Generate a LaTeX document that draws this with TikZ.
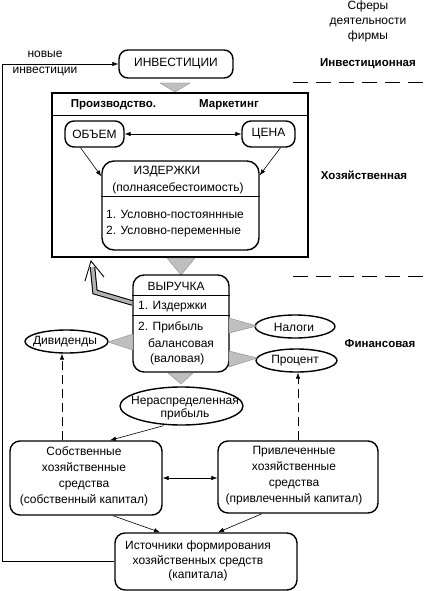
\documentclass[tikz,border=0pt]{standalone}
\usepackage{fontspec}
\setmainfont{Liberation Sans}
\usetikzlibrary{arrows.meta,shapes.geometric,calc}
\begin{document}
\begin{tikzpicture}[x=1pt,y=-1pt,
 txt/.style={font=\fontsize{12}{15}\selectfont, inner sep=0, align=center},
 hdr/.style={font=\fontsize{11.5}{14}\selectfont\bfseries, inner sep=0},
 rbox/.style={draw, line width=1.4pt, rounded corners=9pt, inner sep=0},
 ell/.style={draw, ellipse, line width=1.4pt, inner sep=0},
 tri/.style={fill=black!25, draw=black!45, line width=0.4pt},
 arr/.style={-{Latex[length=6pt,width=4.5pt]}, line width=0.6pt},
 darr/.style={{Latex[length=6pt,width=4.5pt]}-{Latex[length=6pt,width=4.5pt]}, line width=0.6pt},
 dasharr/.style={arr, dash pattern=on 9pt off 5pt},
 sep/.style={dash pattern=on 15pt off 8pt, line width=0.7pt}
]
\useasboundingbox (0,0) rectangle (426,591);

% right column
\node[txt] (sfery) at (368,21) {Сферы\\деятельности\\фирмы};
\node[hdr] (sInv) at (368,64) {Инвестиционная};
\node[hdr] (sHoz) at (364,175) {Хозяйственная};
\node[hdr] (sFin) at (380,344) {Финансовая};
\coordinate (sepA) at (293,82);
\coordinate (sepB) at (293,276);
\draw[sep] (sepA) -- ++(133,0);
\draw[sep] (sepB) -- ++(133,0);

% investments
\node[rbox, minimum width=114, minimum height=28] (inv) at (176,64) {};
\node[txt] (invT) at (176,64) {ИНВЕСТИЦИИ};
\node[txt, font=\fontsize{12}{16}\selectfont] (newinv) at (45,63) {новые\\инвестиции};

% production box
\node[draw, line width=1.4pt, minimum width=256, minimum height=164, inner sep=0] (prod) at (180,175) {};
\draw[line width=1.2pt] ([yshift=-23]prod.north west) -- ([yshift=-23]prod.north east);
\node[hdr] (prodT) at (113.5,105) {Производство.};
\node[hdr] (markT) at (229,105) {Маркетинг};

\node[rbox, minimum width=59, minimum height=26] (obj) at (94.5,134) {};
\node[txt] (objT) at (94.5,134) {ОБЪЕМ};
\node[rbox, minimum width=53, minimum height=26] (cena) at (268.5,134) {};
\node[txt] (cenaT) at (268.5,134) {ЦЕНА};
\draw[darr] (obj) -- (cena);

\node[rbox, rounded corners=12pt, minimum width=157, minimum height=89] (izd) at (180.5,205.5) {};
\draw[line width=1.2pt] ([yshift=-36]izd.north west) -- ([yshift=-36]izd.north east);
\node[txt] (izdT) at (167,172) {ИЗДЕРЖКИ};
\node[txt] (izdT2) at (178,188) {(полнаясебестоимость)};
\node[txt, anchor=west] (izd1) at (106,214) {1. Условно-постояннные};
\node[txt, anchor=west] (izd2) at (106,232) {2. Условно-переменные};
\draw[arr] ([xshift=-14]obj.south) -- ([yshift=-16]izd.north west);
\draw[arr] ([xshift=12]cena.south) -- ([yshift=-15]izd.north east);

% triangles
\draw[tri] (160,83) -- (190,83) -- (175,92) -- cycle;
\draw[tri] (167,258) -- (195,258) -- (181,275) -- cycle;

% revenue
\node[rbox, rounded corners=11pt, minimum width=96, minimum height=97] (vyr) at (181,323.5) {};
\draw[line width=1.2pt] ([yshift=-21]vyr.north west) -- ([yshift=-21]vyr.north east);
\draw[line width=1.2pt] ([yshift=-41]vyr.north west) -- ([yshift=-41]vyr.north east);
\node[txt] (vyrT) at (176,286) {ВЫРУЧКА};
\node[txt, anchor=west] (vyr1) at (138,307) {1. Издержки};
\node[txt, anchor=west] (vyr2) at (138,327) {2. Прибыль};
\node[txt, anchor=west] (vyr3) at (148,343) {балансовая};
\node[txt, anchor=west] (vyr4) at (150,359) {(валовая)};

% gray return arrow
\draw[line width=5.5pt, line join=miter] ([yshift=20.5]vyr.west) -- (95,292) -- (92.5,267);
\draw[line width=3.4pt, black!30, line join=miter] ([yshift=20.5]vyr.west) -- (95,292) -- (92.5,267);
\draw[line width=0.9pt] (85,281) -- (91,261) -- (104,277);

% ellipses
\node[ell, minimum width=80, minimum height=23] (nal) at (295,326.5) {};
\node[txt] (nalT) at (294,327) {Налоги};
\node[ell, minimum width=81, minimum height=23] (proc) at (296.5,360.5) {};
\node[txt] (procT) at (295,361) {Процент};
\node[ell, minimum width=83, minimum height=23] (div) at (66.5,341.5) {};
\node[txt] (divT) at (65,342) {Дивиденды};
\node[ell, minimum width=123, minimum height=38] (ner) at (181.5,406) {};
\node[txt, font=\fontsize{12}{12.5}\selectfont] (nerT) at (185,408) {Нераспределенная\\прибыль};

\draw[tri] (229,318) -- (229,333) -- (257,326) -- cycle;
\draw[tri] (229,351) -- (229,367) -- (257,358) -- cycle;
\draw[tri] (133,334) -- (133,350) -- (108,342) -- cycle;
\draw[tri] (168,373) -- (193,373) -- (181,384) -- cycle;

% capital boxes
\node[rbox, rounded corners=10pt, minimum width=152, minimum height=74] (sob) at (86,478) {};
\node[txt, font=\fontsize{12}{16}\selectfont] (sobT) at (84,476) {Собственные\\хозяйственные\\средства\\(собственный капитал)};
\node[rbox, rounded corners=10pt, minimum width=160, minimum height=72] (pri) at (298,477) {};
\node[txt, font=\fontsize{12}{16}\selectfont] (priT) at (294,476) {Привлеченные\\хозяйственные\\средства\\(привлеченный капитал)};
\node[rbox, rounded corners=10pt, minimum width=182, minimum height=57] (ist) at (206,561.5) {};
\node[txt, font=\fontsize{12}{14.5}\selectfont] (istT) at (198,561) {Источники формирования\\хозяйственных средств\\(капитала)};

\draw[arr] ([xshift=-18]ner.south) -- ([xshift=24]sob.north);
\draw[darr] (sob.east) -- (sob.east -| pri.west);
\draw[arr] ([xshift=27]sob.south) -- ([xshift=-46]ist.north);
\draw[arr] ([xshift=-36]pri.south) -- ([xshift=12]ist.north);
\draw[dasharr] ([xshift=-24]sob.north) -- ([xshift=-24]sob.north |- div.south);
\draw[dasharr] (pri.north) -- (pri.north |- proc.south);

% loop back to investments
\coordinate (loopx) at (2,0);
\draw[arr] (ist.west) -- (ist.west -| loopx) -- (inv.west -| loopx) -- (inv.west);
\end{tikzpicture}
\end{document}
